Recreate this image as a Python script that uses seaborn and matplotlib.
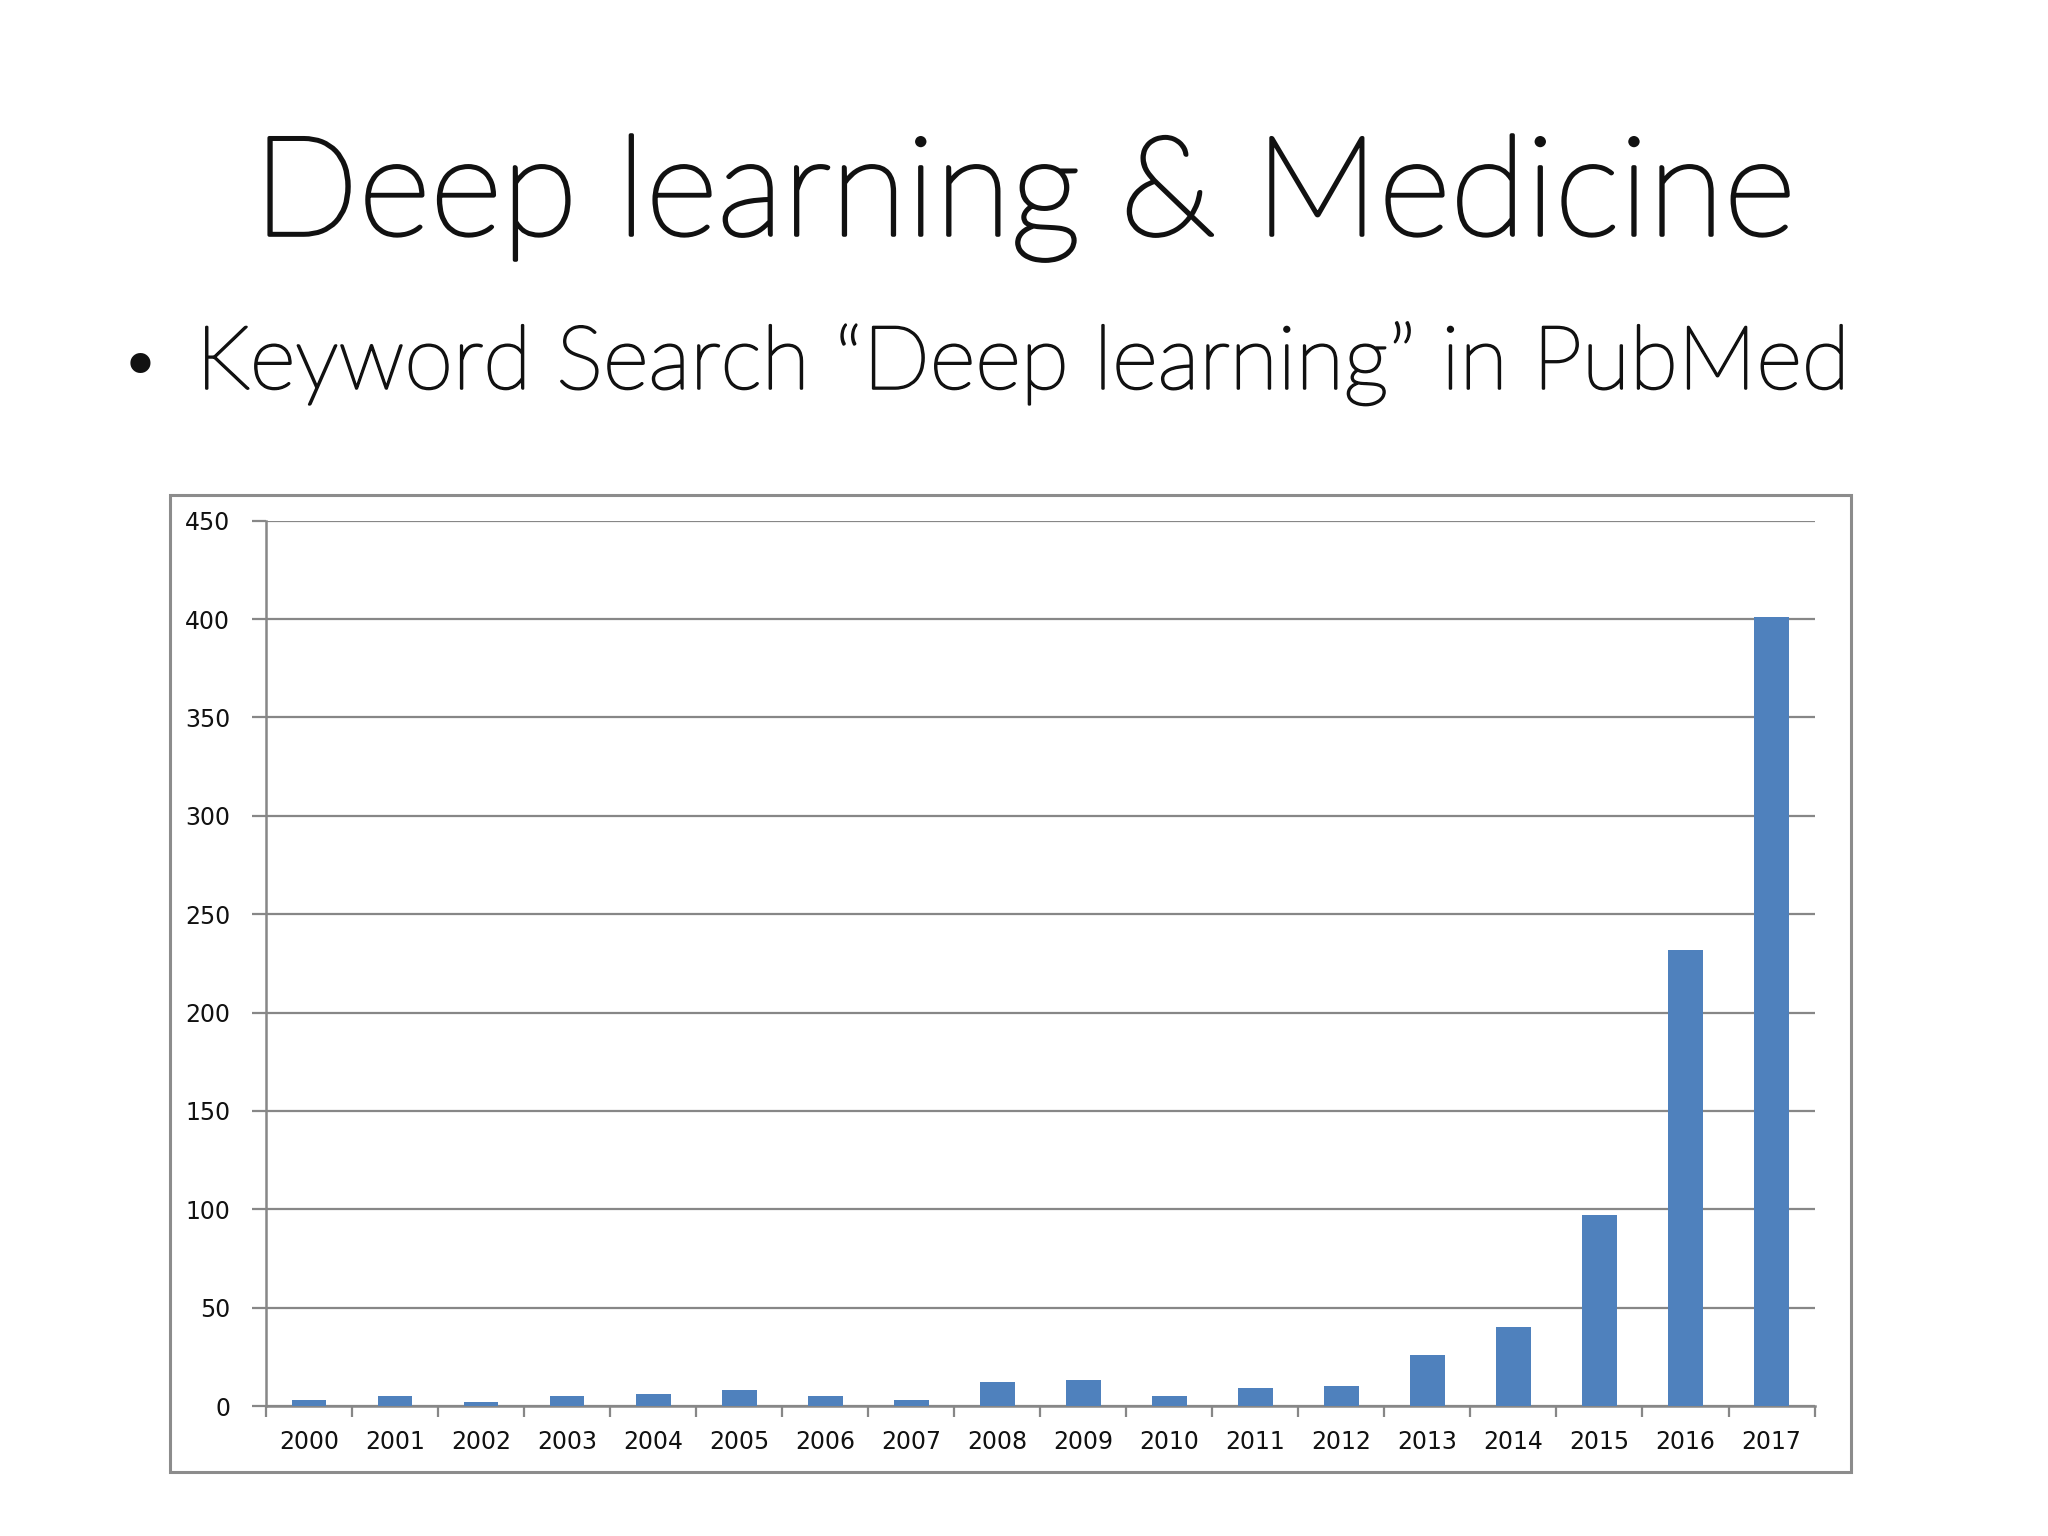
import matplotlib
matplotlib.use('Agg')
import matplotlib.pyplot as plt
import matplotlib.patheffects as pe
import seaborn as sns
import pandas as pd
import numpy as np
from matplotlib.patches import Rectangle

years = [str(y) for y in range(2000, 2018)]
counts = [3, 5, 2, 5, 6, 8, 5, 3, 12, 13, 5, 9, 10, 26, 40, 97, 232, 401]
y_ticks = list(range(0, 451, 50))
title = "Deep learning & Medicine"
subtitle = "Keyword Search \u201cDeep learning\u201d in PubMed"

sns.set_theme(style='white')
plt.rcParams['font.family'] = ['DejaVu Sans']

fig = plt.figure(figsize=(20.48, 15.36), dpi=100)
fig.patch.set_facecolor('white')

ax = fig.add_axes([0.130, 0.0846, 0.756, 0.5764])
df = pd.DataFrame({'year': years, 'count': counts})
sns.barplot(data=df, x='year', y='count', color='#4F81BD', width=0.4,
            saturation=1, linewidth=0, ax=ax, zorder=3)

grid_c = '#878787'
ax.set_xlim(-0.5, len(years) - 0.5)
ax.set_ylim(0, 450)
ax.set_yticks(y_ticks)
ax.set_yticklabels([str(v) for v in y_ticks])
ax.set_xlabel('')
ax.set_ylabel('')
ax.set_axisbelow(True)
ax.yaxis.grid(True, color=grid_c, linewidth=1.6)
ax.xaxis.grid(False)
for s in ['top', 'right']:
    ax.spines[s].set_visible(False)
for s in ['left', 'bottom']:
    ax.spines[s].set_visible(True)
    ax.spines[s].set_color(grid_c)
    ax.spines[s].set_linewidth(1.8)

ax.set_xticks(np.arange(-0.5, len(years), 1.0), minor=True)
ax.tick_params(axis='x', which='major', length=0, pad=17, labelsize=17, labelcolor='#111111')
ax.tick_params(axis='x', which='minor', length=8, width=1.6, color=grid_c, direction='out', bottom=True)
ax.tick_params(axis='y', which='major', length=10, width=1.6, color=grid_c, direction='out',
               left=True, pad=16, labelsize=17, labelcolor='#111111')

fig.patches.append(Rectangle((0.083, 0.0417), 0.821, 0.636, transform=fig.transFigure,
                             fill=False, edgecolor='#8c8c8c', linewidth=2.2))

fig.text(0.5, 0.847, title, ha='center', va='baseline', fontsize=100,
         family=['Lato', 'DejaVu Sans'], fontweight='light', color='#111111',
         path_effects=[pe.withStroke(linewidth=2.6, foreground='#111111')])
fig.text(0.0585, 0.747, '\u2022', ha='left', va='baseline', fontsize=50,
         family=['DejaVu Sans'], color='#111111')
fig.text(0.0957, 0.747, subtitle, ha='left', va='baseline', fontsize=63.5,
         family=['Lato', 'DejaVu Sans'], fontweight='light', color='#111111',
         path_effects=[pe.withStroke(linewidth=1.7, foreground='#111111')])

fig.savefig('out.png', dpi=100, facecolor='white')
